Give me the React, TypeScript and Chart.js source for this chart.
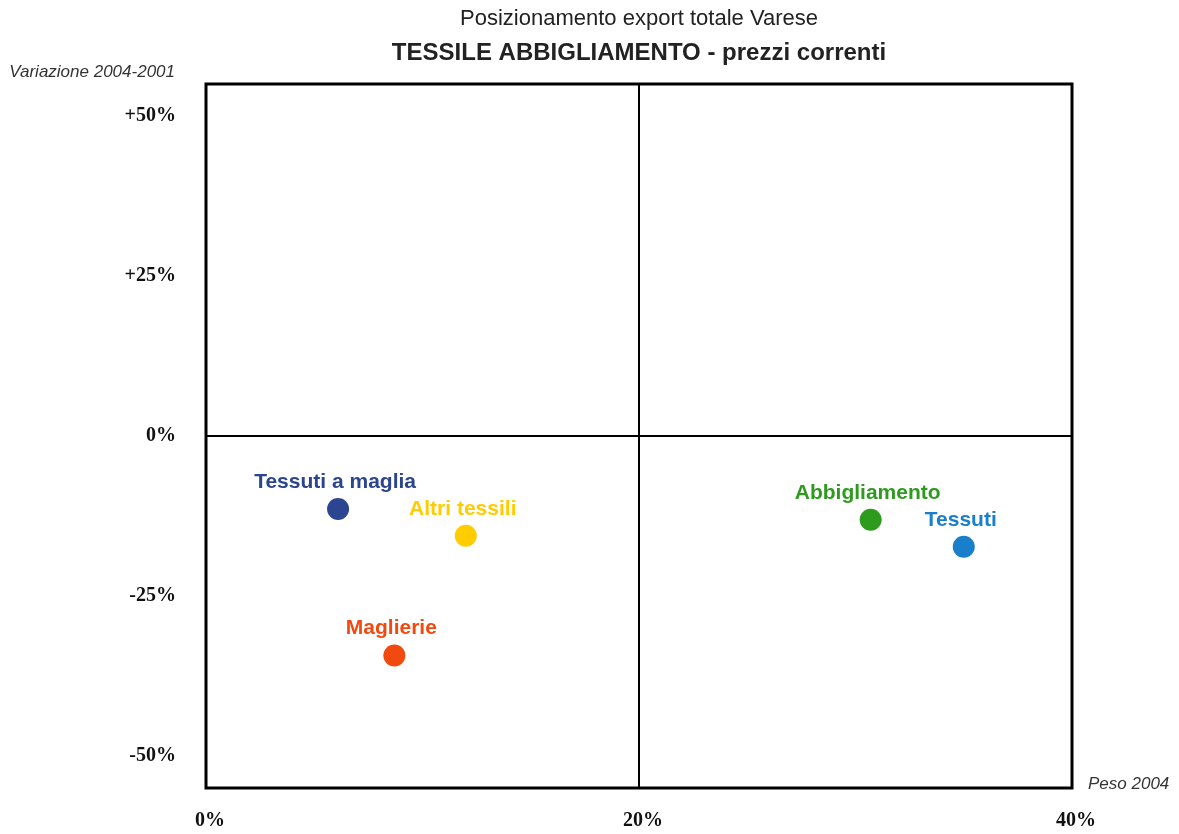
import React, { useEffect, useRef } from "react";
import { Chart, registerables } from "chart.js";

Chart.register(...registerables);

const TITLE_1 = "Posizionamento export totale Varese";
const TITLE_2 = "TESSILE ABBIGLIAMENTO - prezzi correnti";
const Y_AXIS_LABEL = "Variazione 2004-2001";
const X_AXIS_LABEL = "Peso 2004";

const CATEGORIES = ["Tessuti a maglia", "Altri tessili", "Maglierie", "Abbigliamento", "Tessuti"];
const WEIGHT_2004 = [6.1, 12.0, 8.7, 30.7, 35.0];
const CHANGE_2004_2001 = [-11.4, -15.6, -34.3, -13.1, -17.3];
const COLORS = ["#2B4590", "#FFCC00", "#F04A10", "#2E9A1E", "#1A7FCB"];

const X_TICKS = [0, 20, 40];
const Y_TICKS = [-50, -25, 0, 25, 50];
const X_TICK_LABELS = ["0%", "20%", "40%"];
const Y_TICK_LABELS = ["-50%", "-25%", "0%", "+25%", "+50%"];

const overlay = {
  id: "overlay",
  afterDraw(chart: any) {
    const { ctx, chartArea } = chart;
    const a = chartArea;
    ctx.save();
    // frame
    ctx.strokeStyle = "#000";
    ctx.lineWidth = 3;
    ctx.strokeRect(a.left, a.top, a.right - a.left, a.bottom - a.top);
    // titles
    const cx = (a.left + a.right) / 2;
    ctx.fillStyle = "#222";
    ctx.textAlign = "center";
    ctx.textBaseline = "middle";
    ctx.font = "22px 'Liberation Sans', Arial, sans-serif";
    ctx.fillText(TITLE_1, cx, 11);
    ctx.font = "bold 24px 'Liberation Sans', Arial, sans-serif";
    ctx.fillText(TITLE_2, cx, 45);
    // axis labels
    ctx.font = "italic 17px 'Liberation Sans', Arial, sans-serif";
    ctx.fillStyle = "#333";
    ctx.textAlign = "right";
    ctx.fillText(Y_AXIS_LABEL, a.left - 31, 64);
    ctx.textAlign = "left";
    ctx.fillText(X_AXIS_LABEL, a.right + 16, a.bottom - 4);
    // point labels
    const meta = chart.getDatasetMeta(0);
    ctx.font = "bold 21px 'Liberation Sans', Arial, sans-serif";
    ctx.textAlign = "center";
    meta.data.forEach((el: any, i: number) => {
      ctx.fillStyle = COLORS[i];
      ctx.fillText(CATEGORIES[i], el.x - 3, el.y - 27);
    });
    ctx.restore();
  },
};

export default function App() {
  const ref = useRef<HTMLCanvasElement>(null);
  useEffect(() => {
    if (!ref.current) return;
    const chart = new Chart(ref.current, {
      type: "scatter",
      data: {
        datasets: [
          {
            label: "Settori",
            data: CATEGORIES.map((_, i) => ({ x: WEIGHT_2004[i], y: CHANGE_2004_2001[i] })),
            backgroundColor: COLORS,
            borderColor: COLORS,
            pointRadius: 11,
            pointHoverRadius: 11,
            borderWidth: 0,
          },
        ],
      },
      plugins: [overlay],
      options: {
        animation: false,
        responsive: false,
        devicePixelRatio: 1,
        layout: { padding: { top: 76, right: 99, left: 0, bottom: 0 } },
        plugins: { legend: { display: false }, tooltip: { enabled: false }, title: { display: false } },
        scales: {
          x: {
            type: "linear",
            min: 0,
            max: 40,
            afterBuildTicks: (s: any) => {
              s.ticks = X_TICKS.map((v) => ({ value: v }));
            },
            afterFit: (s: any) => {
              s.height = 46;
            },
            grid: {
              drawTicks: false,
              color: (c: any) => (c.tick && c.tick.value === 20 ? "#000" : "rgba(0,0,0,0)"),
              lineWidth: 2,
            },
            border: { display: false },
            ticks: {
              padding: 21,
              labelOffset: 4,
              color: "#111",
              font: { family: "'Liberation Serif', 'Times New Roman', serif", size: 20, weight: "bold" },
              callback: (v: any) => X_TICK_LABELS[X_TICKS.indexOf(Number(v))] ?? "",
            },
          },
          y: {
            type: "linear",
            min: -55,
            max: 55,
            afterBuildTicks: (s: any) => {
              s.ticks = Y_TICKS.map((v) => ({ value: v }));
            },
            afterFit: (s: any) => {
              s.width = 198;
            },
            grid: {
              drawTicks: false,
              color: (c: any) => (c.tick && c.tick.value === 0 ? "#000" : "rgba(0,0,0,0)"),
              lineWidth: 2,
            },
            border: { display: false },
            ticks: {
              padding: 30,
              color: "#111",
              font: { family: "'Liberation Serif', 'Times New Roman', serif", size: 20, weight: "bold" },
              callback: (v: any) => Y_TICK_LABELS[Y_TICKS.indexOf(Number(v))] ?? "",
            },
          },
        },
      },
    });
    return () => chart.destroy();
  }, []);
  return (
    <div style={{ width: 1163, height: 826, marginBottom: -8 }}>
      <canvas ref={ref} width={1163} height={826} style={{ display: "block", width: 1163, height: 826 }} />
    </div>
  );
}
